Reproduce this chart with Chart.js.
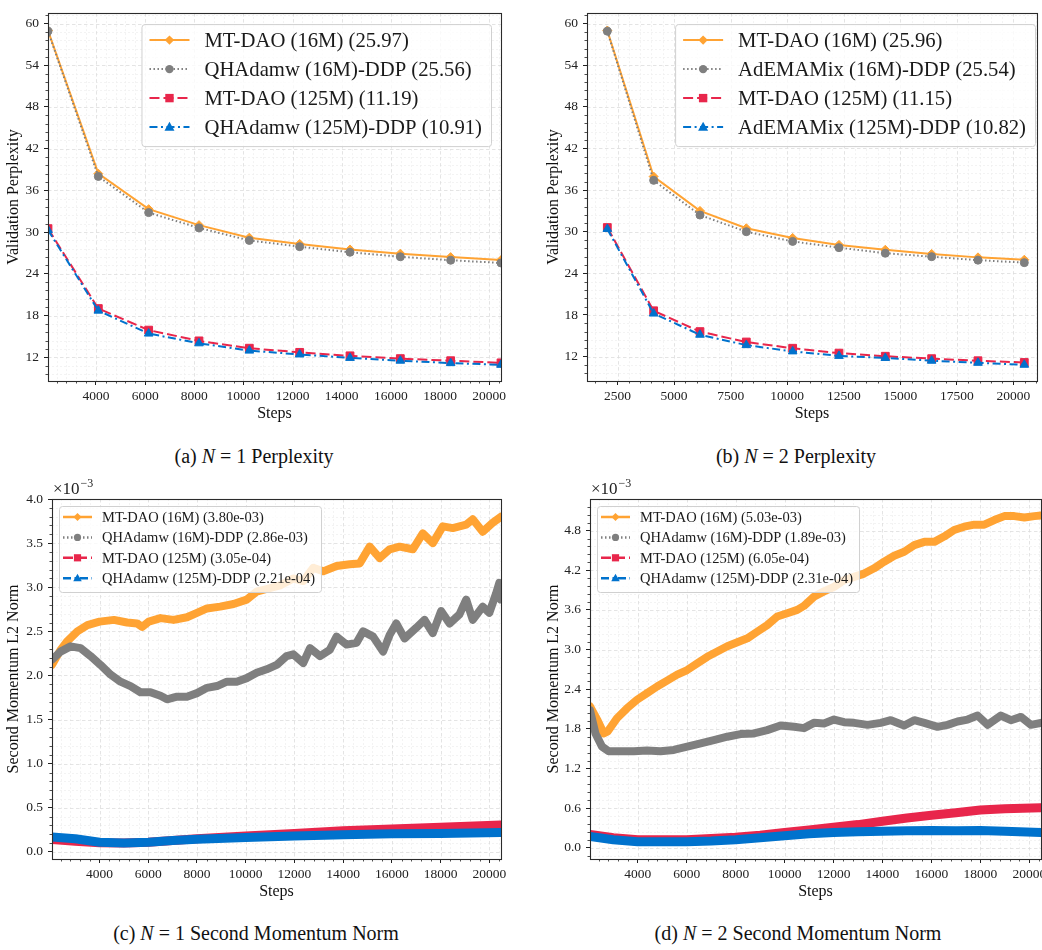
<!DOCTYPE html>
<html>
<head>
<meta charset="utf-8">
<script src="https://cdn.jsdelivr.net/npm/chart.js@4.4.1/dist/chart.umd.min.js"></script>
<style>
  html, body { margin: 0; padding: 0; background: #fff; }
  body { width: 1042px; height: 950px; position: relative; overflow: hidden; font-family: 'Liberation Serif', 'DejaVu Serif', serif; }
  canvas { position: absolute; }
  .cap { position: absolute; width: 520px; text-align: center; font-size: 20px; color: #111; white-space: pre; }
  .cap i { font-style: italic; }
</style>
</head>
<body>
<canvas id="pplN1" width="520" height="430" style="left:0;top:0"></canvas>
<canvas id="pplN2" width="520" height="430" style="left:540px;top:0"></canvas>
<canvas id="normN1" width="520" height="440" style="left:0;top:470px"></canvas>
<canvas id="normN2" width="520" height="440" style="left:540px;top:470px"></canvas>

<div class="cap" style="left:-6px;top:445px">(a) <i>N</i> = 1 Perplexity</div>
<div class="cap" style="left:536px;top:445px">(b) <i>N</i> = 2 Perplexity</div>
<div class="cap" style="left:-4px;top:922px">(c) <i>N</i> = 1 Second Momentum Norm</div>
<div class="cap" style="left:538px;top:922px">(d) <i>N</i> = 2 Second Momentum Norm</div>

<script>
const SERIF = "'Liberation Serif', 'DejaVu Serif', serif";

// ---- validation perplexity, evaluated every 2048 steps ----
const evalSteps = [2048, 4096, 6144, 8192, 10240, 12288, 14336, 16384, 18432, 20480];

const n1Names = ['MT-DAO (16M) (25.97)', 'QHAdamw (16M)-DDP (25.56)', 'MT-DAO (125M) (11.19)', 'QHAdamw (125M)-DDP (10.91)'];
const n1Mt16 = [59.0, 38.4, 33.3, 31.0, 29.2, 28.3, 27.5, 26.9, 26.4, 25.97];
const n1Qh16 = [58.9, 38.0, 32.8, 30.6, 28.8, 27.9, 27.1, 26.45, 25.95, 25.56];
const n1Mt125 = [30.5, 19.0, 15.9, 14.35, 13.3, 12.7, 12.2, 11.8, 11.5, 11.19];
const n1Qh125 = [30.3, 18.7, 15.4, 14.0, 12.95, 12.4, 11.9, 11.5, 11.15, 10.91];

const n2Names = ['MT-DAO (16M) (25.96)', 'AdEMAMix (16M)-DDP (25.54)', 'MT-DAO (125M) (11.15)', 'AdEMAMix (125M)-DDP (10.82)'];
const n2Mt16 = [59.0, 37.95, 33.0, 30.5, 29.1, 28.1, 27.4, 26.8, 26.3, 25.96];
const n2Ad16 = [58.9, 37.4, 32.4, 30.0, 28.6, 27.7, 26.9, 26.4, 25.9, 25.54];
const n2Mt125 = [30.6, 18.6, 15.6, 14.1, 13.2, 12.5, 12.05, 11.7, 11.4, 11.15];
const n2Ad125 = [30.4, 18.2, 15.15, 13.65, 12.75, 12.1, 11.8, 11.4, 11.1, 10.82];

const pplTicks = [12, 18, 24, 30, 36, 42, 48, 54, 60];
const n1StepTicks = [4000, 6000, 8000, 10000, 12000, 14000, 16000, 18000, 20000];
const n2StepTicks = [2500, 5000, 7500, 10000, 12500, 15000, 17500, 20000];

// ---- second momentum L2 norm (values in units of 1e-3) ----
const c1Names = ['MT-DAO (16M) (3.80e-03)', 'QHAdamw (16M)-DDP (2.86e-03)', 'MT-DAO (125M) (3.05e-04)', 'QHAdamw (125M)-DDP (2.21e-04)'];
const c1StepsMt16 = [2048, 2400, 2680, 3090, 3500, 4000, 4590, 5130, 5540, 5750, 6020, 6500, 7040, 7590, 8000, 8410, 8950, 9500, 10040, 10450, 10860, 11410, 11950, 12360, 12770, 13180, 13730, 14270, 14680, 15090, 15500, 15910, 16320, 16860, 17270, 17680, 18090, 18500, 19050, 19320, 19730, 20140, 20480];
const c1Mt16 = [2.12, 2.29, 2.39, 2.50, 2.57, 2.61, 2.63, 2.60, 2.59, 2.55, 2.61, 2.65, 2.63, 2.66, 2.71, 2.76, 2.78, 2.81, 2.86, 2.95, 2.98, 3.02, 3.10, 3.07, 3.22, 3.18, 3.24, 3.26, 3.27, 3.46, 3.33, 3.43, 3.46, 3.43, 3.61, 3.50, 3.69, 3.67, 3.71, 3.77, 3.63, 3.73, 3.80];
const c1StepsQh16 = [2048, 2400, 2810, 3220, 3630, 4040, 4450, 4860, 5270, 5680, 6090, 6500, 6770, 7180, 7590, 8000, 8410, 8820, 9230, 9630, 10040, 10450, 10860, 11270, 11680, 11950, 12360, 12640, 13050, 13450, 13730, 14140, 14550, 14820, 15230, 15640, 15910, 16180, 16520, 17000, 17340, 17680, 18020, 18370, 18770, 19050, 19320, 19730, 20000, 20280, 20410, 20480];
const c1Qh16 = [2.18, 2.27, 2.33, 2.31, 2.22, 2.12, 2.01, 1.93, 1.88, 1.81, 1.81, 1.77, 1.73, 1.76, 1.76, 1.80, 1.86, 1.88, 1.93, 1.93, 1.97, 2.03, 2.07, 2.12, 2.22, 2.24, 2.14, 2.31, 2.22, 2.29, 2.44, 2.35, 2.37, 2.50, 2.44, 2.27, 2.46, 2.59, 2.42, 2.54, 2.63, 2.48, 2.73, 2.59, 2.69, 2.86, 2.63, 2.78, 2.71, 2.93, 3.05, 2.86];
const c1StepsLarge = [2048, 3000, 4000, 5000, 6000, 7000, 8000, 10000, 12000, 14000, 16000, 18000, 20480];
const c1Mt125 = [0.14, 0.12, 0.105, 0.10, 0.11, 0.13, 0.15, 0.18, 0.21, 0.24, 0.26, 0.28, 0.305];
const c1Qh125 = [0.17, 0.15, 0.11, 0.10, 0.11, 0.13, 0.145, 0.165, 0.18, 0.195, 0.205, 0.21, 0.221];

const c2Names = ['MT-DAO (16M) (5.03e-03)', 'QHAdamw (16M)-DDP (1.89e-03)', 'MT-DAO (125M) (6.05e-04)', 'QHAdamw (125M)-DDP (2.31e-04)'];
const c2StepsMt16 = [2048, 2340, 2610, 2770, 3150, 3560, 3970, 4380, 4790, 5200, 5610, 6020, 6430, 6840, 7250, 7660, 8070, 8480, 8880, 9290, 9700, 10110, 10520, 10790, 11200, 11610, 12020, 12430, 12840, 13250, 13660, 14070, 14480, 14890, 15300, 15710, 16120, 16520, 16930, 17340, 17750, 18160, 18570, 18980, 19390, 19800, 20210, 20480];
const c2Mt16 = [2.14, 1.94, 1.73, 1.76, 1.96, 2.11, 2.24, 2.34, 2.44, 2.53, 2.62, 2.69, 2.79, 2.89, 2.97, 3.05, 3.11, 3.17, 3.27, 3.37, 3.50, 3.55, 3.60, 3.66, 3.80, 3.88, 3.95, 4.05, 4.10, 4.15, 4.23, 4.33, 4.42, 4.48, 4.58, 4.63, 4.63, 4.71, 4.81, 4.86, 4.89, 4.89, 4.96, 5.02, 5.02, 5.00, 5.02, 5.03];
const c2StepsQh16 = [2048, 2270, 2540, 2810, 3290, 3840, 4380, 4930, 5470, 6020, 6570, 7110, 7660, 8200, 8750, 9290, 9840, 10390, 10790, 11200, 11610, 12020, 12430, 12840, 13390, 13930, 14340, 14890, 15300, 15710, 16250, 16660, 17070, 17480, 17890, 18300, 18840, 19250, 19660, 20070, 20480];
const c2Qh16 = [2.08, 1.73, 1.53, 1.46, 1.46, 1.46, 1.47, 1.46, 1.48, 1.53, 1.58, 1.63, 1.68, 1.72, 1.73, 1.78, 1.85, 1.83, 1.81, 1.89, 1.88, 1.94, 1.90, 1.89, 1.86, 1.89, 1.93, 1.85, 1.93, 1.89, 1.83, 1.86, 1.91, 1.94, 2.00, 1.86, 2.00, 1.93, 1.98, 1.86, 1.89];
const c2StepsLarge = [2048, 3000, 4000, 5000, 6000, 7000, 8000, 9000, 10000, 11000, 12000, 13000, 14000, 15000, 16000, 17000, 18000, 19000, 20480];
const c2Mt125 = [0.20, 0.15, 0.12, 0.12, 0.12, 0.14, 0.16, 0.19, 0.23, 0.27, 0.31, 0.35, 0.40, 0.45, 0.49, 0.53, 0.57, 0.59, 0.605];
const c2Qh125 = [0.17, 0.12, 0.09, 0.09, 0.09, 0.10, 0.12, 0.15, 0.18, 0.21, 0.23, 0.24, 0.25, 0.255, 0.26, 0.255, 0.26, 0.25, 0.231];

const norm1Ticks = [0.0, 0.5, 1.0, 1.5, 2.0, 2.5, 3.0, 3.5, 4.0];
const norm2Ticks = [0.0, 0.6, 1.2, 1.8, 2.4, 3.0, 3.6, 4.2, 4.8];

// line style per series slot: 16M ours, 16M baseline, 125M ours, 125M baseline
const STYLES = [
    { color: '#ffa333', dash: [], marker: 'diamond', r: 4.5 },
    { color: '#7f7f7f', dash: [1.5, 2.5], marker: 'circle', r: 4 },
    { color: '#e8264b', dash: [10, 4], marker: 'square', r: 4 },
    { color: '#0072cd', dash: [8, 3.5, 2, 3.5], marker: 'triangle', r: 5 }
];

const toPoints = (steps, vals) => steps.map((s, i) => ({ x: s, y: vals[i] }));

function drawMarker(ctx, kind, cx, cy, r, color) {
    ctx.save();
    ctx.setLineDash([]);
    ctx.fillStyle = color;
    ctx.beginPath();
    if (kind === 'circle') {
        ctx.arc(cx, cy, r, 0, Math.PI * 2);
    } else if (kind === 'diamond') {
        ctx.moveTo(cx, cy - r); ctx.lineTo(cx + r, cy); ctx.lineTo(cx, cy + r); ctx.lineTo(cx - r, cy);
    } else if (kind === 'square') {
        ctx.rect(cx - r, cy - r, 2 * r, 2 * r);
    } else {
        ctx.moveTo(cx, cy - r); ctx.lineTo(cx + r * 0.95, cy + r * 0.7); ctx.lineTo(cx - r * 0.95, cy + r * 0.7);
    }
    ctx.closePath();
    ctx.fill();
    ctx.restore();
}

function minorValues(min, max, step, majors) {
    const out = [];
    for (let v = Math.ceil(min / step) * step; v <= max + 1e-9; v += step) {
        const r = Math.round(v * 1e6) / 1e6;
        if (!majors.some(m => Math.abs(m - r) < step * 1e-3)) out.push(r);
    }
    return out;
}

// matplotlib-ish axes furniture: dashed grid, minor ticks, frame, inset legend, offset text
const mplAxes = {
    id: 'mplAxes',
    beforeDatasetsDraw(chart, args, o) {
        const { ctx, chartArea: a, scales: { x, y } } = chart;
        ctx.save();
        ctx.beginPath();
        ctx.rect(a.left, a.top, a.width, a.height);
        ctx.clip();
        const grid = (vals, horiz, color, dash, lw) => {
            ctx.strokeStyle = color;
            ctx.lineWidth = lw;
            ctx.setLineDash(dash);
            vals.forEach(v => {
                ctx.beginPath();
                if (horiz) {
                    const py = Math.round(y.getPixelForValue(v)) + 0.5;
                    ctx.moveTo(a.left, py); ctx.lineTo(a.right, py);
                } else {
                    const px = Math.round(x.getPixelForValue(v)) + 0.5;
                    ctx.moveTo(px, a.top); ctx.lineTo(px, a.bottom);
                }
                ctx.stroke();
            });
        };
        const xMaj = x.ticks.map(t => t.value);
        const yMaj = y.ticks.map(t => t.value);
        grid(minorValues(x.min, x.max, o.xMinor, xMaj), false, '#eeeeee', [2, 2], 0.7);
        grid(minorValues(y.min, y.max, o.yMinor, yMaj), true, '#eeeeee', [2, 2], 0.7);
        grid(xMaj, false, '#dddddd', [3.5, 2.5], 0.8);
        grid(yMaj, true, '#dddddd', [3.5, 2.5], 0.8);
        ctx.restore();
    },
    afterDatasetsDraw(chart, args, o) {
        const { ctx, chartArea: a, scales: { x, y } } = chart;
        ctx.save();
        ctx.setLineDash([]);

        // minor ticks, outward on left and bottom
        ctx.strokeStyle = '#222';
        ctx.lineWidth = 0.8;
        minorValues(x.min, x.max, o.xMinor, x.ticks.map(t => t.value)).forEach(v => {
            const px = Math.round(x.getPixelForValue(v)) + 0.5;
            ctx.beginPath(); ctx.moveTo(px, a.bottom); ctx.lineTo(px, a.bottom + 2.5); ctx.stroke();
        });
        minorValues(y.min, y.max, o.yMinor, y.ticks.map(t => t.value)).forEach(v => {
            const py = Math.round(y.getPixelForValue(v)) + 0.5;
            ctx.beginPath(); ctx.moveTo(a.left, py); ctx.lineTo(a.left - 2.5, py); ctx.stroke();
        });

        // frame
        ctx.strokeStyle = '#2b2b2b';
        ctx.lineWidth = 1.1;
        ctx.strokeRect(Math.round(a.left) + 0.5, Math.round(a.top) + 0.5, Math.round(a.width), Math.round(a.height));

        // offset text for the scaled axis
        if (o.offsetText) {
            ctx.fillStyle = '#222';
            ctx.textBaseline = 'alphabetic';
            ctx.font = `17px ${SERIF}`;
            const bx = a.left + 1, by = a.top - 5;
            ctx.fillText('×10', bx, by);
            const w = ctx.measureText('×10').width;
            ctx.font = `12px ${SERIF}`;
            ctx.fillText('−3', bx + w + 1, by - 7);
        }

        // legend box
        const L = o.legend;
        ctx.font = `${L.size}px ${SERIF}`;
        const names = chart.data.datasets.map(d => d.label);
        const maxW = Math.max(...names.map(n => ctx.measureText(n).width));
        const boxW = L.textX + maxW + L.padR;
        const bx = L.corner === 'right' ? a.right - L.inset[0] - boxW : a.left + L.inset[0];
        const by = a.top + L.inset[1];
        ctx.beginPath();
        ctx.roundRect(bx + 0.5, by + 0.5, boxW, L.height, 3);
        ctx.fillStyle = 'rgba(255,255,255,0.8)';
        ctx.fill();
        ctx.strokeStyle = '#d0d0d0';
        ctx.lineWidth = 1;
        ctx.stroke();

        ctx.textBaseline = 'middle';
        names.forEach((name, i) => {
            const st = STYLES[i];
            const ry = by + L.firstRow + i * L.rowGap;
            const sx = bx + L.sample[0];
            ctx.strokeStyle = st.color;
            ctx.lineWidth = L.lineWidth;
            ctx.setLineDash(st.dash);
            ctx.beginPath(); ctx.moveTo(sx, ry); ctx.lineTo(sx + L.sample[1], ry); ctx.stroke();
            drawMarker(ctx, st.marker, sx + L.sample[1] / 2, ry, st.r * L.markerScale, st.color);
            ctx.fillStyle = '#1a1a1a';
            ctx.fillText(name, bx + L.textX, ry + 1);
        });
        ctx.restore();
    }
};

function makeChart(id, cfg) {
    const canvas = document.getElementById(id);
    const W = canvas.width, H = canvas.height;
    const tickFont = { family: SERIF, size: 13.5 };
    const titleFont = { family: SERIF, size: 16 };
    return new Chart(canvas, {
        type: 'line',
        data: { datasets: cfg.datasets },
        plugins: [mplAxes],
        options: {
            responsive: false,
            animation: false,
            devicePixelRatio: 1,
            layout: { padding: { left: 0, top: cfg.area.top, right: W - cfg.area.right, bottom: 0 } },
            plugins: {
                legend: { display: false },
                tooltip: { enabled: false },
                mplAxes: { xMinor: cfg.xMinor, yMinor: cfg.yMinor, legend: cfg.legend, offsetText: cfg.offsetText }
            },
            scales: {
                x: {
                    type: 'linear',
                    min: cfg.xRange[0],
                    max: cfg.xRange[1],
                    afterFit: s => { s.height = H - cfg.area.bottom; },
                    afterBuildTicks: s => { s.ticks = cfg.xTicks.map(v => ({ value: v })); },
                    ticks: { font: tickFont, color: '#222', padding: 3, maxRotation: 0, autoSkip: false, callback: v => String(v) },
                    grid: { display: true, drawOnChartArea: false, tickLength: 4, tickColor: '#222', tickWidth: 1 },
                    border: { display: false },
                    title: { display: true, text: 'Steps', font: titleFont, color: '#111', padding: { top: 0, bottom: cfg.xTitlePad } }
                },
                y: {
                    type: 'linear',
                    min: cfg.yRange[0],
                    max: cfg.yRange[1],
                    afterFit: s => { s.width = cfg.area.left; },
                    afterBuildTicks: s => { s.ticks = cfg.yTicks.map(v => ({ value: v })); },
                    ticks: { font: tickFont, color: '#222', padding: 5, autoSkip: false, callback: cfg.yFormat },
                    grid: { display: true, drawOnChartArea: false, tickLength: 4, tickColor: '#222', tickWidth: 1 },
                    border: { display: false },
                    title: { display: true, text: cfg.yTitle, font: titleFont, color: '#111', padding: { top: 4, bottom: 0 } }
                }
            }
        }
    });
}

const pplSets = (names, series) => series.map((vals, i) => ({
    label: names[i],
    data: toPoints(evalSteps, vals),
    borderColor: STYLES[i].color,
    backgroundColor: STYLES[i].color,
    borderWidth: 2,
    borderDash: STYLES[i].dash,
    pointStyle: { diamond: 'rectRot', circle: 'circle', square: 'rect', triangle: 'triangle' }[STYLES[i].marker],
    pointRadius: STYLES[i].r + (STYLES[i].marker === 'square' ? 1.5 : 0),
    pointBorderWidth: 1,
    pointBorderColor: STYLES[i].color,
    pointBackgroundColor: STYLES[i].color,
    order: 4 - i
}));

const normSets = (names, pairs) => pairs.map(([steps, vals], i) => ({
    label: names[i],
    data: toPoints(steps, vals),
    borderColor: STYLES[i].color,
    borderWidth: i >= 2 ? 9 : 8,
    pointRadius: 0,
    borderJoinStyle: 'round',
    borderCapStyle: 'round',
    order: 4 - i
}));

const pplLegend = { corner: 'right', inset: [10, 11], height: 122, firstRow: 16, rowGap: 29, sample: [8, 40], textX: 63, padR: 9, size: 20.7, lineWidth: 2, markerScale: 1.05 };
const normLegend = { corner: 'left', inset: [7, 7], height: 86, firstRow: 11, rowGap: 20.4, sample: [4, 29], textX: 43, padR: 6, size: 14.5, lineWidth: 2.5, markerScale: 0.9 };

makeChart('pplN1', {
    datasets: pplSets(n1Names, [n1Mt16, n1Qh16, n1Mt125, n1Qh125]),
    area: { left: 48, top: 5, right: 501, bottom: 381 },
    xRange: [2048, 20480], xTicks: n1StepTicks, xMinor: 400,
    yRange: [8.58, 61.5], yTicks: pplTicks, yMinor: 1.2,
    yFormat: v => String(v), yTitle: 'Validation Perplexity', xTitlePad: 7,
    legend: pplLegend
});

makeChart('pplN2', {
    datasets: pplSets(n2Names, [n2Mt16, n2Ad16, n2Mt125, n2Ad125]),
    area: { left: 47, top: 5, right: 497, bottom: 381 },
    xRange: [1150, 21041], xTicks: n2StepTicks, xMinor: 500,
    yRange: [8.48, 61.51], yTicks: pplTicks, yMinor: 1.2,
    yFormat: v => String(v), yTitle: 'Validation Perplexity', xTitlePad: 7,
    legend: { ...pplLegend, inset: [2, 11] }
});

makeChart('normN1', {
    datasets: normSets(c1Names, [[c1StepsMt16, c1Mt16], [c1StepsQh16, c1Qh16], [c1StepsLarge, c1Mt125], [c1StepsLarge, c1Qh125]]),
    area: { left: 52, top: 29, right: 501, bottom: 389 },
    xRange: [2048, 20480], xTicks: n1StepTicks, xMinor: 400,
    yRange: [-0.08, 4.0], yTicks: norm1Ticks, yMinor: 0.1,
    yFormat: v => v.toFixed(1), yTitle: 'Second Momentum L2 Norm', xTitlePad: 9,
    legend: normLegend, offsetText: true
});

makeChart('normN2', {
    datasets: normSets(c2Names, [[c2StepsMt16, c2Mt16], [c2StepsQh16, c2Qh16], [c2StepsLarge, c2Mt125], [c2StepsLarge, c2Qh125]]),
    area: { left: 50, top: 29, right: 501, bottom: 389 },
    xRange: [2048, 20480], xTicks: n1StepTicks, xMinor: 400,
    yRange: [-0.171, 5.279], yTicks: norm2Ticks, yMinor: 0.12,
    yFormat: v => v.toFixed(1), yTitle: 'Second Momentum L2 Norm', xTitlePad: 9,
    legend: normLegend, offsetText: true
});
</script>
</body>
</html>
